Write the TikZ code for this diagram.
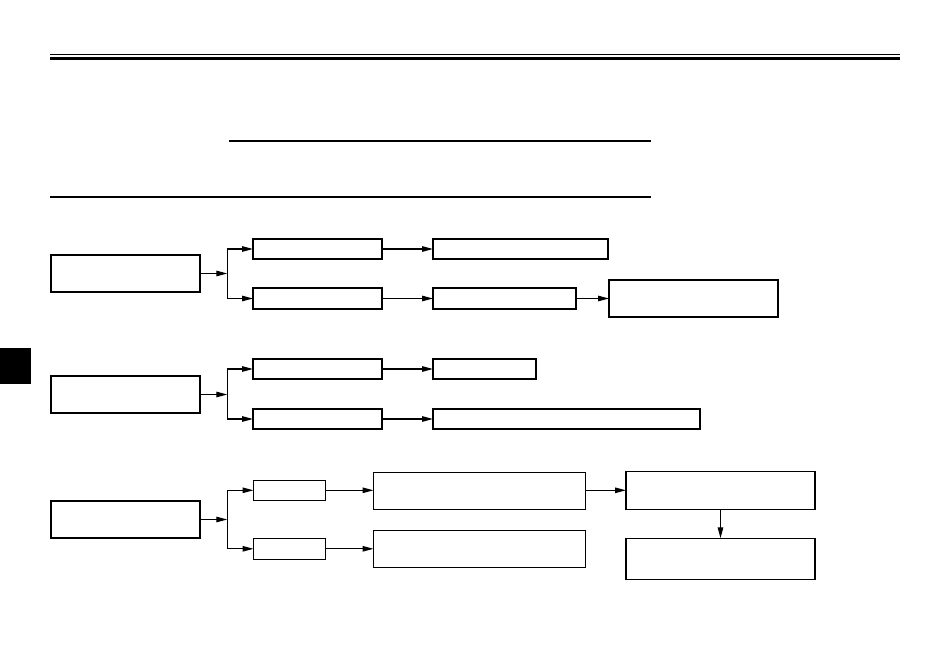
\documentclass[tikz,border=0pt]{standalone}
\usepackage{tikz}
\usetikzlibrary{arrows.meta, positioning}

\begin{document}
\begin{tikzpicture}[x=1pt, y=-1pt,
  box/.style={rectangle, draw=black, line width=1.2pt, inner sep=0pt, outer sep=0pt, fill=white},
  flow/.style={-{Triangle[length=11pt, width=5.5pt]}, line width=1.2pt},
  link/.style={line width=1.2pt}]

\useasboundingbox (0,0) rectangle (950,671);

% Header rules
\draw [line width=1pt] (50,54.5) -- (900,54.5);
\draw [line width=2.6pt] (50,58.6) -- (900,58.6);
\draw [line width=2pt] (229,141.5) -- (651,141.5);
\draw [line width=2pt] (50,197.5) -- (651,197.5);

% Tab
\fill [black] (0,348) rectangle (31,384);

% Nodes
\node (cause1) [box, minimum width=149pt, minimum height=37pt] at (125.5,273.5) {};
\node (check1) [box, minimum width=129pt, minimum height=20pt] at (317.5,249) {};
\node (check2) [box, minimum width=129pt, minimum height=21pt] at (317.5,298.5) {};
\node (act1) [box, minimum width=175pt, minimum height=20pt] at (520.5,249) {};
\node (act2) [box, minimum width=143pt, minimum height=21pt] at (504.5,298.5) {};
\node (res2) [box, minimum width=169pt, minimum height=37pt] at (693.5,298.5) {};

\node (cause2) [box, minimum width=149pt, minimum height=37pt] at (125.5,394.5) {};
\node (check3) [box, minimum width=129pt, minimum height=20pt] at (317.5,369) {};
\node (check4) [box, minimum width=129pt, minimum height=20pt] at (317.5,419) {};
\node (act3) [box, minimum width=103pt, minimum height=20pt] at (484.5,369) {};
\node (act4) [box, minimum width=267pt, minimum height=20pt] at (566.5,419) {};

\node (cause3) [box, minimum width=149pt, minimum height=37pt] at (125.5,519.5) {};
\node (check5) [box, minimum width=72pt, minimum height=20pt] at (289.5,490.3) {};
\node (check6) [box, minimum width=72pt, minimum height=21pt] at (289.5,548.8) {};
\node (act5) [box, minimum width=212pt, minimum height=37pt] at (479.5,490.8) {};
\node (act6) [box, minimum width=212pt, minimum height=37pt] at (479.5,548.8) {};
\node (res5) [box, minimum width=189pt, minimum height=38pt] at (720.5,490.3) {};
\node (res6) [box, minimum width=189pt, minimum height=41pt] at (720.5,558.8) {};

% Fork points
\coordinate (fork1) at (227.3,273.5);
\coordinate (fork2) at (227.3,394.5);
\coordinate (fork3) at (227.3,519.5);

% Arrows
\draw [flow] (cause1) -- (fork1);
\draw [link] (fork1 |- check1) -- (fork1 |- check2);
\draw [flow] (fork1 |- check1) -- (check1);
\draw [flow] (fork1 |- check2) -- (check2);
\draw [flow] (check1) -- (act1);
\draw [flow] (check2) -- (act2);
\draw [flow] (act2) -- (res2);

\draw [flow] (cause2) -- (fork2);
\draw [link] (fork2 |- check3) -- (fork2 |- check4);
\draw [flow] (fork2 |- check3) -- (check3);
\draw [flow] (fork2 |- check4) -- (check4);
\draw [flow] (check3) -- (act3);
\draw [flow] (check4) -- (act4);

\draw [flow] (cause3) -- (fork3);
\draw [link] (fork3 |- check5) -- (fork3 |- check6);
\draw [flow] (fork3 |- check5) -- (check5);
\draw [flow] (fork3 |- check6) -- (check6);
\draw [flow] (check5) -- (check5 -| act5.west);
\draw [flow] (check6) -- (check6 -| act6.west);
\draw [flow] (act5.east |- res5) -- (res5);
\draw [flow] (res5) -- (res6);

\end{tikzpicture}
\end{document}
